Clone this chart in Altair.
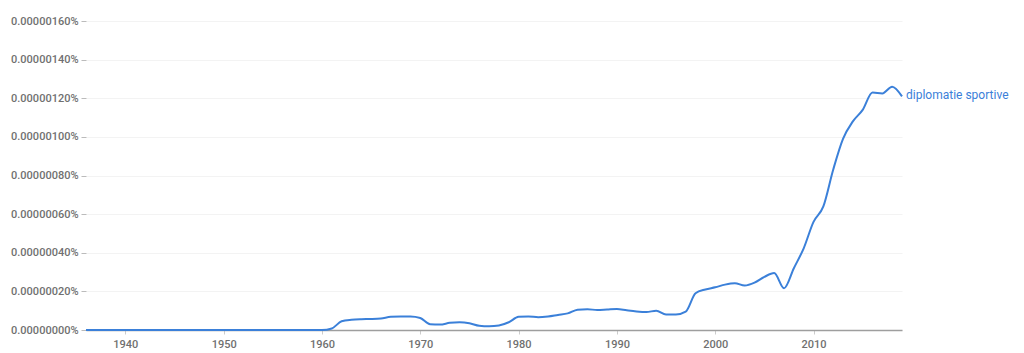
import altair as alt
import pandas as pd

years = list(range(1936, 2020))
# values in units of 0.00000001 %
values_e8 = (
    [0.0] * 25  # 1936-1960
    + [0.8, 4.5, 5.3, 5.6, 5.7, 6.0, 6.8, 7.0, 7.0, 6.2,  # 1961-1970
       3.0, 2.8, 3.7, 4.0, 3.5, 2.2, 1.9, 2.3, 4.0, 6.8,  # 1971-1980
       7.0, 6.6, 7.0, 7.8, 8.6, 10.5, 10.8, 10.3, 10.6, 10.9,  # 1981-1990
       10.2, 9.6, 9.3, 10.0, 8.0, 8.0, 9.5, 19.0, 21.0, 22.1,  # 1991-2000
       23.5, 24.2, 23.0, 24.5, 27.5, 29.5, 21.6, 32.0, 42.3, 56.0,  # 2001-2010
       64.0, 83.0, 99.0, 108.0, 114.0, 123.0, 122.5, 126.0, 121.0]  # 2011-2019
)
series_name = "diplomatie sportive"
x_ticks = [1940, 1950, 1960, 1970, 1980, 1990, 2000, 2010]
y_ticks_e8 = [0, 20, 40, 60, 80, 100, 120, 140, 160]

df = pd.DataFrame({"year": years, "value": [v * 1e-8 for v in values_e8]})
label_df = df.tail(1).assign(name=series_name)

BLUE = "#3b80d9"
GRAY = "#707070"

x = alt.X("year:Q", scale=alt.Scale(domain=[1936, 2019], nice=False, zero=False),
          axis=alt.Axis(values=x_ticks, tickCount=len(x_ticks), format="d", title=None,
                        grid=False, domainColor="#9e9e9e", domainWidth=1.5,
                        tickColor="#cccccc", tickSize=4, labelPadding=4, labelOverlap=False))
y = alt.Y("value:Q", scale=alt.Scale(domain=[0, 160e-8], nice=False),
          axis=alt.Axis(values=[v * 1e-8 for v in y_ticks_e8], tickCount=len(y_ticks_e8),
                        labelExpr="format(datum.value, '.8f') + '%'",
                        title=None, domain=False, gridColor="#f3f3f3",
                        tickColor="#bbbbbb", tickSize=5, labelPadding=3,
                        labelOverlap=False))

line = alt.Chart(df).mark_line(color=BLUE, strokeWidth=2, interpolate="monotone").encode(x=x, y=y)
text = alt.Chart(label_df).mark_text(align="left", baseline="middle", dx=4, dy=-1,
                                     color=BLUE, fontSize=12, font="Roboto").encode(
    x="year:Q", y="value:Q", text="name:N")

chart = (line + text).properties(
    width=816, height=309,
    autosize=alt.AutoSizeParams(type="none"),
    padding={"left": 86, "top": 21, "right": 122, "bottom": 23},
).configure_view(stroke=None).configure_axis(
    labelFont="Roboto", labelFontSize=11, labelColor=GRAY, labelFontWeight=500
)

chart.save("out.html", embed_options={"renderer": "svg", "actions": False})
